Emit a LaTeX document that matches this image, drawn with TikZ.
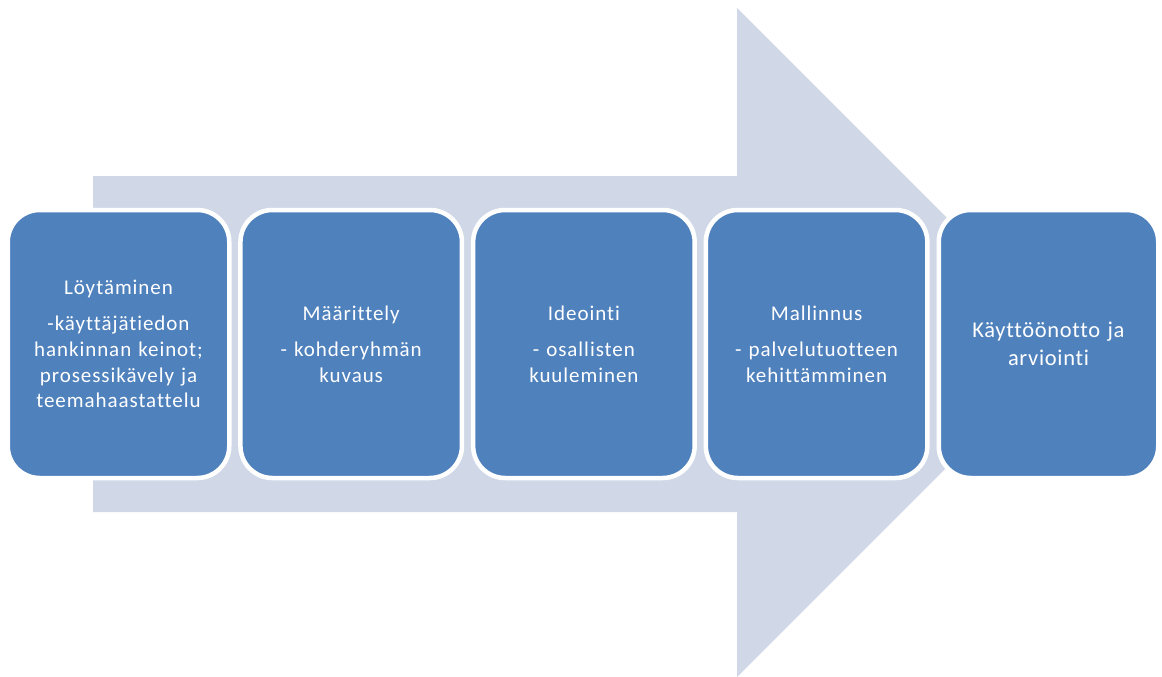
\documentclass[tikz,border=0pt]{standalone}
\usepackage{fontspec}
\setmainfont{Carlito}
\newfontfamily\boxfont[LetterSpace=4.5,WordSpace=1.3,Ligatures=NoCommon]{Carlito}
\newfontfamily\lastfont[LetterSpace=3,WordSpace=1.2,Ligatures=NoCommon]{Carlito}
\definecolor{boxblue}{HTML}{4F81BD}
\definecolor{arrowgrey}{HTML}{D0D8E8}
\begin{document}
\begin{tikzpicture}[x=1pt,y=-1pt,
  stagebox/.style={draw=white,line width=4.5pt,fill=boxblue,rounded corners=32pt,
    minimum width=221.5pt,minimum height=268pt,text=white,align=center,
    text width=210pt,inner sep=0pt,font=\boxfont\fontsize{21}{25.8}\selectfont},
  lastbox/.style={stagebox,minimum width=219.5pt,font=\lastfont\fontsize{22.5}{28.5}\selectfont}]
\useasboundingbox (0,0) rectangle (1162,677);
\fill[arrowgrey] (93,176) -- (737,176) -- (737,8) -- (1071.5,342.5) -- (737,677)
  -- (737,512) -- (93,512) -- cycle;
\node[stagebox] (s1) at (118.5,344) {Löytäminen\\[10.5pt]-käyttäjätiedon\\hankinnan keinot;\\prosessikävely ja\\teemahaastattelu};
\node[stagebox] (s2) at (351.2,344) {Määrittely\\[10.5pt]- kohderyhmän\\kuvaus};
\node[stagebox] (s3) at (583.9,344) {Ideointi\\[10.5pt]- osallisten\\kuuleminen};
\node[stagebox] (s4) at (816.6,344) {Mallinnus\\[10.5pt]- palvelutuotteen\\kehittämminen};
\node[lastbox] (s5) at (1048.5,344) {Käyttöönotto ja\\arviointi};
\end{tikzpicture}
\end{document}
